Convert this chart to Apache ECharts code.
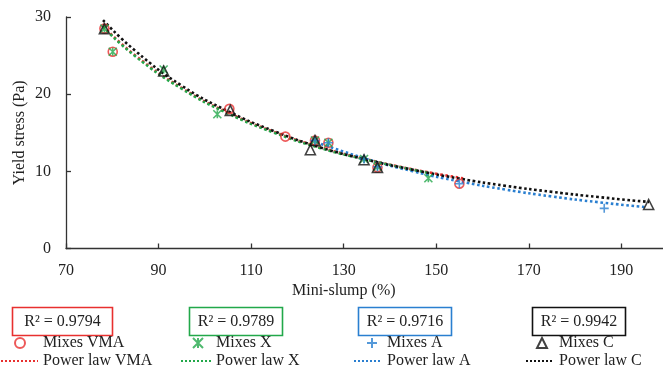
<!DOCTYPE html>
<html>
<head>
<meta charset="utf-8">
<script src="https://cdn.jsdelivr.net/npm/echarts@6/dist/echarts.min.js"></script>
<style>
  html, body { margin: 0; padding: 0; background: #fff; }
  #chart { width: 663px; height: 371px; }
</style>
</head>
<body>
<div id="chart"></div>
<script>
// Measured points: mini-slump (%) against yield stress (Pa)
const vmaSlump = [78.3, 80.1, 105.3, 117.4, 123.8, 126.7, 137.3, 155.0];
const vmaStress = [28.5, 25.5, 18.1, 14.5, 14.0, 13.7, 10.5, 8.4];
const xSlump = [78.3, 80.1, 91.1, 102.7, 123.8, 126.7, 134.4, 137.3, 148.3];
const xStress = [28.5, 25.5, 23.2, 17.4, 14.0, 13.7, 11.6, 10.6, 9.1];
const aSlump = [123.8, 126.7, 134.4, 137.3, 155.0, 186.3];
const aStress = [14.0, 13.7, 11.6, 10.6, 8.4, 5.2];
const cSlump = [78.3, 91.1, 105.5, 122.8, 123.8, 134.4, 137.3, 195.9];
const cStress = [28.5, 23.0, 17.9, 12.8, 14.0, 11.5, 10.5, 5.7];

// Power-law trend curves, sampled along each fit
const fitVmaSlump = [78, 85, 95, 105, 115, 125, 135, 145, 155.8];
const fitVmaStress = [28.8, 25.0, 20.8, 17.6, 15.1, 13.1, 11.55, 10.25, 9.1];
const fitXSlump = [78, 85, 95, 105, 115, 125, 135, 148];
const fitXStress = [28.7, 24.9, 20.7, 17.5, 15.0, 13.0, 11.5, 9.82];
const fitASlump = [123, 135, 145, 155, 165, 175, 185, 195];
const fitAStress = [14.0, 11.6, 10.0, 8.7, 7.63, 6.74, 6.0, 5.38];
const fitCSlump = [78, 85, 95, 105, 115, 125, 135, 145, 155, 165, 175, 185, 196];
const fitCStress = [29.6, 25.6, 21.1, 17.8, 15.2, 13.1, 11.5, 10.2, 9.06, 8.12, 7.34, 6.67, 6.03];

// Coefficients of determination for each fit
const r2Labels = ['R\u00b2 = 0.9794', 'R\u00b2 = 0.9789', 'R\u00b2 = 0.9716', 'R\u00b2 = 0.9942'];
const markerNames = ['Mixes VMA', 'Mixes X', 'Mixes A', 'Mixes C'];
const fitNames = ['Power law VMA', 'Power law X', 'Power law A', 'Power law C'];

const RED = '#e8302f', GREEN = '#22a84a', BLUE = '#2a7fd0', BLACK = '#111';
const FONT = '"Liberation Serif", "Times New Roman", serif';

const pairs = (xs, ys) => xs.map((v, i) => [v, ys[i]]);

const starPath = 'path://M0,0L10,10M10,0L0,10M5,0L5,10';
const plusPath = 'path://M5,0L5,10M0,5L10,5';

function markerSeries(name, xs, ys, symbol, size, color) {
  return {
    name, type: 'scatter', data: pairs(xs, ys), symbol, symbolSize: size, z: 5,
    symbolKeepAspect: true,
    itemStyle: { color: 'rgba(0,0,0,0)', borderColor: color, borderWidth: 1.6 },
    emphasis: { disabled: true }
  };
}
function fitSeries(name, xs, ys, color, z) {
  return {
    name, type: 'line', data: pairs(xs, ys), smooth: true, symbol: 'none', z,
    lineStyle: { color, width: 2.6, type: 'dotted' }, itemStyle: { color },
    emphasis: { disabled: true }
  };
}

const legendText = { fontFamily: FONT, fontSize: 16, color: '#222' };
// Column layout of the key: marker row and trend-line row
const markerLeft = [14, 192, 366, 536];
const markerPad = [13, 8, 5, 7];
const lineLeft = [0, 180, 353, 525];
const lineWidth = [37, 30, 28, 28];

const legends = [];
markerNames.forEach((n, i) => legends.push({
  orient: 'horizontal', left: markerLeft[i], top: 335, padding: 0, itemWidth: 10, itemHeight: 10,
  selectedMode: false, data: [n],
  textStyle: Object.assign({ padding: [0, 0, 0, markerPad[i]] }, legendText)
}));
fitNames.forEach((n, i) => legends.push({
  orient: 'horizontal', left: lineLeft[i], top: 353, padding: 0, itemWidth: lineWidth[i], itemHeight: 10,
  selectedMode: false, data: [{ name: n, itemStyle: { opacity: 0 } }],
  textStyle: legendText
}));

const boxes = [
  { left: 10, width: 100, color: RED },
  { left: 187, width: 93, color: GREEN },
  { left: 356, width: 93, color: BLUE },
  { left: 530, width: 93, color: BLACK }
];

const chart = echarts.init(document.getElementById('chart'), null, { renderer: 'canvas' });
chart.setOption({
  animation: false,
  backgroundColor: '#fff',
  grid: { left: 66, right: 0, top: 17, bottom: 122.5 },
  xAxis: {
    type: 'value', min: 70, max: 199, interval: 20,
    axisLine: { lineStyle: { color: '#333', width: 1.3 } },
    axisTick: { inside: true, length: 5, lineStyle: { color: '#333', width: 1.3 } },
    axisLabel: { showMaxLabel: false, margin: 14, fontFamily: FONT, fontSize: 16, color: '#222' },
    splitLine: { show: false }
  },
  yAxis: {
    type: 'value', min: 0, max: 30, interval: 10,
    name: 'Yield stress (Pa)', nameLocation: 'middle', nameGap: 38, nameMoveOverlap: false,
    nameTextStyle: { fontFamily: FONT, fontSize: 16, color: '#222' },
    axisLine: { show: true, lineStyle: { color: '#333', width: 1.3 } },
    axisTick: { show: true, inside: true, length: 5, lineStyle: { color: '#333', width: 1.3 } },
    axisLabel: { margin: 15, fontFamily: FONT, fontSize: 16, color: '#222' },
    splitLine: { show: false }
  },
  legend: legends,
  graphic: [
    {
      type: 'text', left: 292, top: 283, z: 10,
      style: { text: 'Mini-slump (%)', font: '16px ' + FONT, fill: '#222' }
    }
  ].concat(boxes.map((b, i) => ({
    type: 'group', left: b.left, top: 305,
    children: [
      { type: 'rect', shape: { x: 0, y: 0, width: b.width, height: 28 },
        style: { fill: 'none', stroke: b.color, lineWidth: 1.6 } },
      { type: 'text', x: b.width / 2, y: 14.5,
        style: { text: r2Labels[i], font: '16px ' + FONT, fill: '#222', textAlign: 'center', textVerticalAlign: 'middle' } }
    ]
  }))),
  series: [
    fitSeries('Power law VMA', fitVmaSlump, fitVmaStress, RED, 2),
    fitSeries('Power law X', fitXSlump, fitXStress, GREEN, 2),
    fitSeries('Power law A', fitASlump, fitAStress, BLUE, 2),
    fitSeries('Power law C', fitCSlump, fitCStress, BLACK, 3),
    markerSeries('Mixes VMA', vmaSlump, vmaStress, 'circle', 9, RED),
    markerSeries('Mixes X', xSlump, xStress, starPath, 8, GREEN),
    markerSeries('Mixes A', aSlump, aStress, plusPath, 9, BLUE),
    markerSeries('Mixes C', cSlump, cStress, 'triangle', 10, BLACK)
  ]
});
</script>
</body>
</html>
